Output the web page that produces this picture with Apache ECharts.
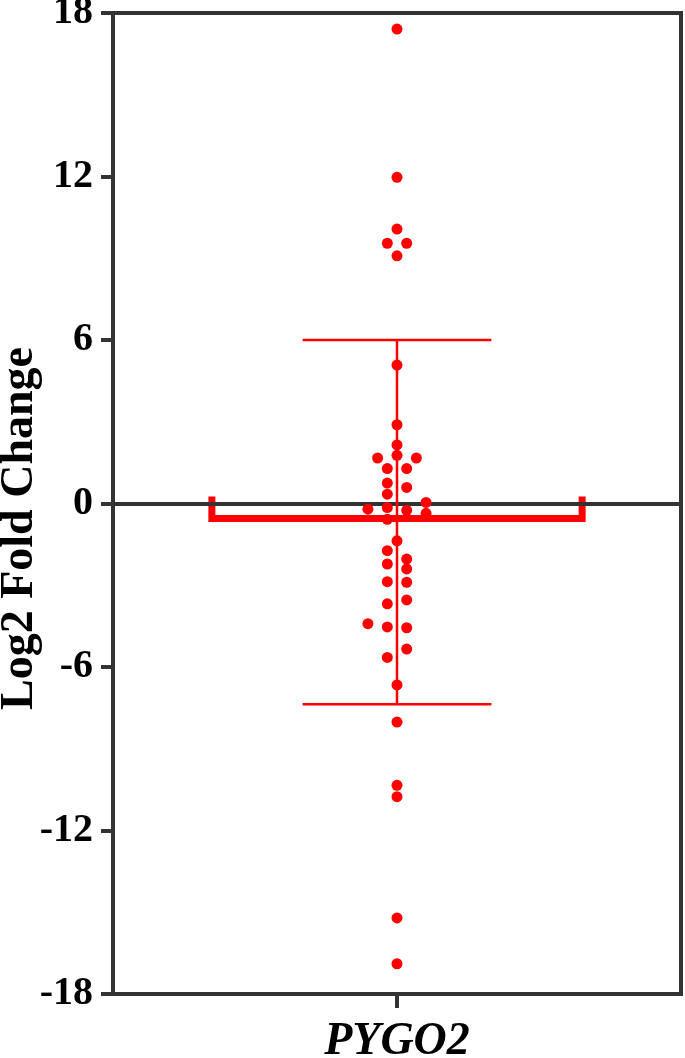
<!DOCTYPE html>
<html>
<head>
<meta charset="utf-8">
<script src="https://cdn.jsdelivr.net/npm/echarts@6/dist/echarts.min.js"></script>
<style>
  html, body { margin: 0; padding: 0; background: #fff; }
  #main { width: 685px; height: 1058px; }
</style>
</head>
<body>
<div id="main"></div>
<script>
// gene on the x axis
const categories = ["PYGO2"];
// log2 fold change of every sample
const foldChange = [
  17.41, 11.97, 10.07, 9.55, 9.55, 9.09, 5.08, 2.89, 2.15, 1.77,
  1.67, 1.67, 1.28, 1.28, 0.75, 0.59, 0.34, 0.04, -0.15, -0.21,
  -0.25, -0.36, -0.58, -1.37, -1.73, -2.04, -2.22, -2.4, -2.87, -2.89,
  -3.54, -3.68, -4.41, -4.53, -4.56, -5.34, -5.65, -6.66, -8.02, -10.34,
  -10.76, -15.21, -16.89
];
// beeswarm column of every sample (0 = centre)
const swarmColumn = [
  0, 0, 0, -1, 1, 0, 0, 0, 0, 0,
  -2, 2, -1, 1, -1, 1, -1, 3, -1, -3,
  1, 3, -1, 0, -1, 1, -1, 1, -1, 1,
  1, -1, -3, -1, 1, 1, -1, 0, 0, 0,
  0, 0, 0
];
// summary: mean and error bar range
const meanValue = [-0.55];
const errorLow = [-7.37];
const errorHigh = [6.0];
// y axis ticks
const yMin = -18, yMax = 18, yStep = 6;

const RED = "#ff0000";
const AXIS = "#333333";
const FONT = "'Liberation Serif', 'DejaVu Serif', serif";
const BAR_HALF = 19.1;   // half width of the mean bar, in column units
const CAP_HALF = 9.74;   // half width of the error caps, in column units

const chart = echarts.init(document.getElementById("main"));

const points = foldChange.map((v, i) => [swarmColumn[i], v]);

const option = {
  animation: false,
  grid: {
    left: 113, right: 4, top: 13, bottom: 64,
    outerBoundsMode: "none",
    show: true,
    borderColor: AXIS,
    borderWidth: 4
  },
  xAxis: [
    {
      type: "category",
      data: categories,
      position: "bottom",
      axisLine: { onZero: false, lineStyle: { color: AXIS, width: 4 } },
      axisTick: {
        show: true,
        interval: 0,
        alignWithLabel: true,
        length: 14,
        lineStyle: { color: AXIS, width: 4 }
      },
      axisLabel: {
        color: "#000",
        fontFamily: FONT,
        fontWeight: "bold",
        fontStyle: "italic",
        fontSize: 46,
        margin: 25
      },
      splitLine: { show: false }
    },
    {
      // hidden value axis for the swarm; its line is the zero line
      type: "value",
      min: -29.3,
      max: 29.3,
      position: "bottom",
      z: 3,
      axisLine: { show: true, onZero: true, lineStyle: { color: AXIS, width: 4 } },
      axisTick: { show: false },
      axisLabel: { show: false },
      splitLine: { show: false }
    }
  ],
  yAxis: {
    type: "value",
    min: yMin,
    max: yMax,
    interval: yStep,
    name: "Log2 Fold Change",
    nameLocation: "middle",
    nameGap: 70,
    nameMoveOverlap: false,
    nameRotate: 90,
    nameTextStyle: {
      color: "#000",
      fontFamily: FONT,
      fontWeight: "bold",
      fontSize: 46,
      padding: [0, 50, 0, 0]
    },
    axisLine: { show: true, onZero: false, lineStyle: { color: AXIS, width: 4 } },
    axisTick: { show: true, length: 12, lineStyle: { color: AXIS, width: 4 } },
    axisLabel: {
      color: "#000",
      fontFamily: FONT,
      fontWeight: "bold",
      fontSize: 40,
      margin: 20
    },
    splitLine: { show: false }
  },
  series: [
    {
      // mean shown as an open bar from zero
      type: "custom",
      xAxisIndex: 1,
      z: 2,
      silent: true,
      data: meanValue.map(m => [0, m]),
      renderItem: function (params, api) {
        const m = api.value(1);
        const l = api.coord([-BAR_HALF, m]);
        const r = api.coord([BAR_HALF, m]);
        const top = api.coord([0, 0])[1] - 7;
        return {
          type: "polyline",
          shape: { points: [[l[0], top], l, r, [r[0], top]] },
          style: { stroke: RED, lineWidth: 7, fill: null }
        };
      }
    },
    {
      // error bar
      type: "custom",
      xAxisIndex: 1,
      z: 4,
      silent: true,
      data: errorLow.map((lo, i) => [0, lo, errorHigh[i]]),
      renderItem: function (params, api) {
        const lo = api.coord([0, api.value(1)]);
        const hi = api.coord([0, api.value(2)]);
        const loL = api.coord([-CAP_HALF, api.value(1)]);
        const loR = api.coord([CAP_HALF, api.value(1)]);
        const hiL = api.coord([-CAP_HALF, api.value(2)]);
        const hiR = api.coord([CAP_HALF, api.value(2)]);
        const st = { stroke: RED, lineWidth: 2.5 };
        return {
          type: "group",
          children: [
            { type: "line", shape: { x1: lo[0], y1: lo[1], x2: hi[0], y2: hi[1] }, style: st },
            { type: "line", shape: { x1: loL[0], y1: loL[1], x2: loR[0], y2: loR[1] }, style: st },
            { type: "line", shape: { x1: hiL[0], y1: hiL[1], x2: hiR[0], y2: hiR[1] }, style: st }
          ]
        };
      }
    },
    {
      type: "scatter",
      xAxisIndex: 1,
      z: 5,
      symbol: "circle",
      symbolSize: 11,
      itemStyle: { color: RED, opacity: 1 },
      data: points
    }
  ]
};
chart.setOption(option);
</script>
</body>
</html>
